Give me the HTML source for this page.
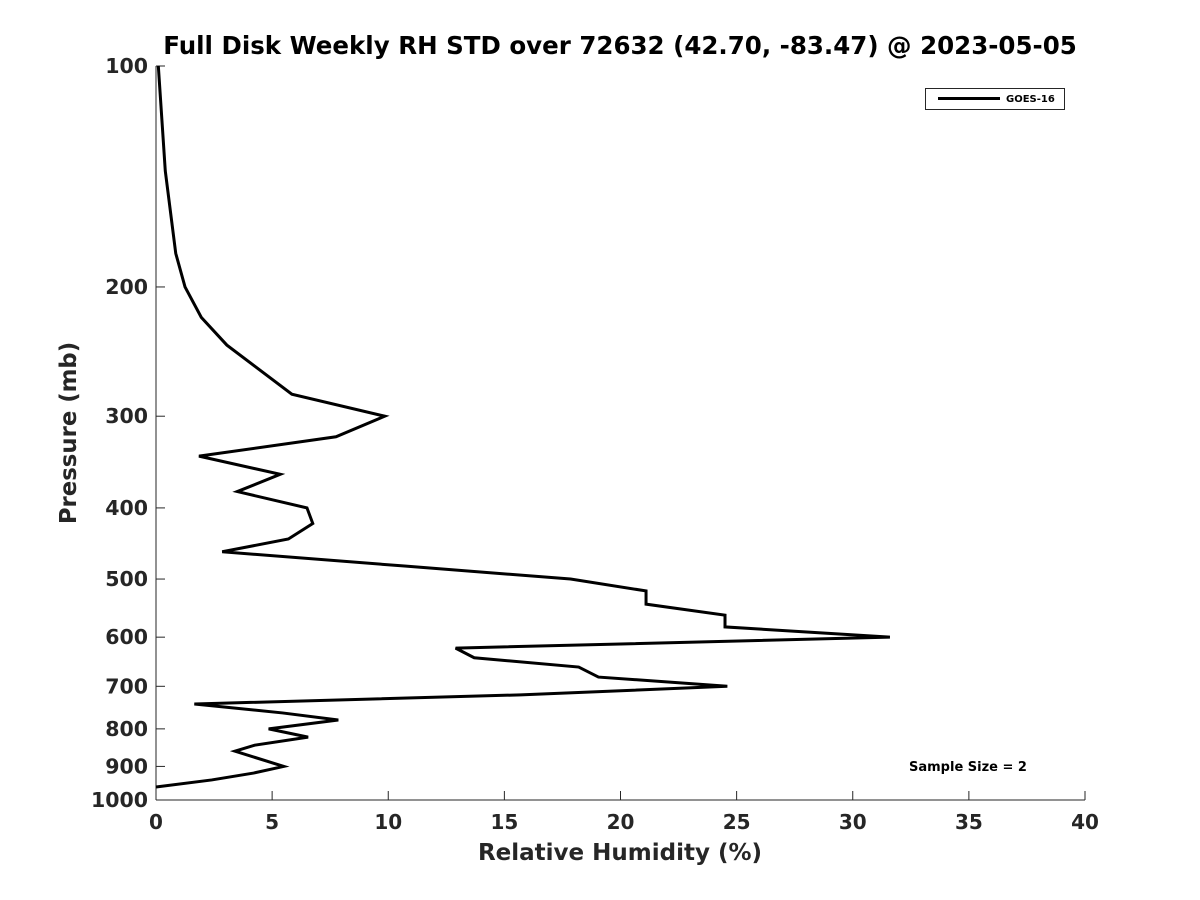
<!DOCTYPE html>
<html><head><meta charset="utf-8"><style>
body{margin:0;background:#fff}
svg{display:block;font-family:"DejaVu Sans","Liberation Sans",sans-serif}
</style></head><body>
<svg id="c" width="1200" height="900"></svg>
<script>
const pressures=[100,139,180,200,220,240,280,300,320,340,360,380,400,420,441,459,480,500,519,541,560,581,600,621,640,659,680,700,719,740,761,778,800,821,842,858,900,919,939,960];
const rhStd=[0.1,0.4,0.85,1.25,1.95,3.05,5.85,9.85,7.75,1.85,5.35,3.5,6.5,6.75,5.7,2.85,10.7,17.85,21.1,21.1,24.5,24.5,31.6,12.9,13.7,18.2,19.05,24.6,15.7,1.65,5.45,7.85,4.85,6.55,4.25,3.4,5.5,4.2,2.4,0];
const xTicks=[0,5,10,15,20,25,30,35,40];
const yTicks=[100,200,300,400,500,600,700,800,900,1000];
const L=156,R=1085,T=66,B=800;
const xs=v=>L+(v-0)/(40-0)*(R-L);
const ys=p=>T+(Math.log10(p)-2)*(B-T);
const NS="http://www.w3.org/2000/svg",svg=document.getElementById('c');
function mk(t,a,txt){const e=document.createElementNS(NS,t);for(const k in a)e.setAttribute(k,a[k]);if(txt!==undefined)e.textContent=txt;svg.appendChild(e);return e;}
let e;
e=mk('line',{x1:L,y1:B,x2:R,y2:B,stroke:'#262626','stroke-width':1});


e=mk('line',{x1:L,y1:T,x2:L,y2:B,stroke:'#262626','stroke-width':1});


xTicks.forEach(v=>{
 mk('line',{x1:xs(v),y1:B,x2:xs(v),y2:B-9,stroke:'#262626'});
 e=mk('text',{x:xs(v),y:B+29,'text-anchor':'middle','font-size':20,'font-weight':'bold',fill:'#262626'},String(v));
 
 
});
yTicks.forEach(p=>{
 mk('line',{x1:L,y1:ys(p),x2:L+9,y2:ys(p),stroke:'#262626'});
 e=mk('text',{x:L-8,y:ys(p)+7,'text-anchor':'end','font-size':20.5,'font-weight':'bold',fill:'#262626'},String(p));
 
 
});
e=mk('text',{x:620,y:54,'text-anchor':'middle','font-size':24.5,'font-weight':'bold',fill:'#000'},'Full Disk Weekly RH STD over 72632 (42.70, -83.47) @ 2023-05-05');


e=mk('text',{x:620,y:860,'text-anchor':'middle','font-size':23,'font-weight':'bold',fill:'#262626'},'Relative Humidity (%)');


e=mk('text',{x:0,y:0,'text-anchor':'middle','font-size':22.8,'font-weight':'bold',fill:'#262626',transform:'translate(76,433) rotate(-90)'},'Pressure (mb)');


e=mk('polyline',{points:pressures.map((p,i)=>xs(rhStd[i])+','+ys(p)).join(' '),fill:'none',stroke:'#000','stroke-width':3,'stroke-linejoin':'miter'});


e=mk('rect',{x:925.5,y:88.5,width:139,height:21,fill:'#fff',stroke:'#262626','stroke-width':1});


mk('line',{x1:938,y1:98.5,x2:1000,y2:98.5,stroke:'#000','stroke-width':3});
e=mk('text',{x:1006,y:102,'font-size':10,'font-weight':'bold',fill:'#000'},'GOES-16');


e=mk('text',{x:968,y:771,'text-anchor':'middle','font-size':13,'font-weight':'bold',fill:'#000'},'Sample Size = 2');


</script>
</body></html>
